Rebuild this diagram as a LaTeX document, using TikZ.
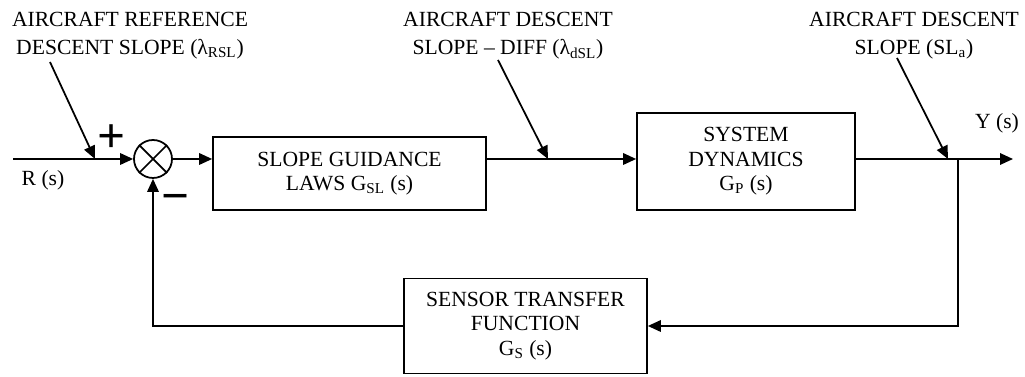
\documentclass[tikz,border=0pt]{standalone}
\usepackage{fontspec}
\setmainfont{Liberation Serif}
\usetikzlibrary{arrows.meta}

\begin{document}
\begin{tikzpicture}[x=0.02cm,y=-0.02cm,
  every node/.style={font=\fontsize{12.3}{13.9}\selectfont},
  blk/.style={draw,line width=1pt,align=center,inner sep=0pt},
  note/.style={align=center,font=\fontsize{12.3}{15.9}\selectfont},
  sign/.style={font=\fontsize{28}{28}\selectfont\bfseries},
  line/.style={line width=1pt},
  arr/.style={line width=1pt,-{Triangle[length=2.6mm,width=2.3mm]}}]
  \useasboundingbox (0,0) rectangle (1025,377);
  % bloques
  \node[circle,draw,line width=1pt,minimum size=0.76cm,inner sep=0pt] (sum) at (153,159) {};
  \draw[line] (sum.45) -- (sum.225);
  \draw[line] (sum.135) -- (sum.315);
  \node[blk,minimum width=5.46cm,minimum height=1.46cm] (gsl) at (349.5,173.5) {SLOPE GUIDANCE\\LAWS G\textsubscript{SL} (s)};
  \node[blk,minimum width=4.36cm,minimum height=1.94cm] (gp) at (746,161.5) {SYSTEM\\DYNAMICS\\G\textsubscript{P} (s)};
  \node[blk,minimum width=4.86cm,minimum height=1.9cm] (gs) at (525.5,326) {SENSOR TRANSFER\\FUNCTION\\G\textsubscript{S} (s)};
  % rotulos
  \node[note] (ann1) at (130,36) {AIRCRAFT REFERENCE\\DESCENT SLOPE (λ\textsubscript{RSL})};
  \node[note] (ann2) at (508,36) {AIRCRAFT DESCENT\\SLOPE -- DIFF (λ\textsubscript{dSL})};
  \node[note] (ann3) at (914,36) {AIRCRAFT DESCENT\\SLOPE (SL\textsubscript{a})};
  \node (rs) at (43,180) {R (s)};
  \node (ys) at (997,123) {Y (s)};
  \node[sign] (plus) at (112,139) {+};
  \node[sign] (minus) at (176,203) {−};
  % puntos
  \coordinate (rin) at (13,159);
  \coordinate (br) at (958,159);
  \coordinate (yout) at (1013,159);
  \coordinate (t1) at (50,62);   \coordinate (h1) at (95,159);
  \coordinate (t2) at (498,60);  \coordinate (h2) at (548,159);
  \coordinate (t3) at (897,58);  \coordinate (h3) at (948,159);
  % senales
  \draw[arr] (rin) -- (sum);
  \draw[arr] (sum) -- (sum -| gsl.west);
  \draw[arr] (gsl.east |- sum) -- (gp.west |- sum);
  \draw[line] (gp.east |- sum) -- (br);
  \draw[arr] (br) -- (yout);
  \draw[arr] (br) |- (gs.east);
  \draw[arr] (gs.west) -| (sum.south);
  \draw[arr] (t1) -- (h1);
  \draw[arr] (t2) -- (h2);
  \draw[arr] (t3) -- (h3);
\end{tikzpicture}
\end{document}
